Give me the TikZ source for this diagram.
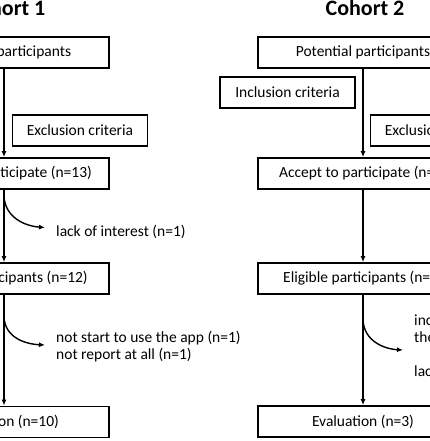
\documentclass[tikz,border=0pt]{standalone}
\usepackage{fontspec}
\setmainfont{Carlito}
\usetikzlibrary{arrows.meta}
\begin{document}
\begin{tikzpicture}[x=1pt,y=-1pt,
  box/.style={draw, line width=1.8pt, minimum width=210pt, minimum height=31pt, inner sep=0pt, font=\fontsize{15.5}{18}\selectfont, text=black},
  sidebox/.style={box, minimum width=135pt},
  flow/.style={line width=1.4pt, -{Latex[length=6pt,width=5pt]}},
  lbl/.style={anchor=west, font=\fontsize{15.5}{17}\selectfont, align=left, inner sep=0pt, text=black},
  ttl/.style={anchor=base, font=\bfseries\fontsize{22}{26}\selectfont, text=black}]
\useasboundingbox (0,0) rectangle (430,441);
\clip (0,0) rectangle (430,441);
% titles
\node[ttl] (t1) at (6,16) {Cohort 1};
\node[ttl] (t2) at (365,16) {Cohort 2};
% cohort 1
\node[box] (a1) at (4,52.5) {Potential participants};
\node[sidebox] (ex1) at (80,130.5) {Exclusion criteria};
\node[box] (b1) at (4,173.5) {Accept to participate (n=13)};
\node[box] (c1) at (4,278.5) {Eligible participants (n=12)};
\node[box] (d1) at (4,422) {Evaluation (n=10)};
\draw[flow] (a1) -- (b1);
\draw[flow] (b1) -- (c1);
\draw[flow] (c1) -- (d1);
\coordinate (k1) at (4,196);
\coordinate (e1) at (45,227.5);
\draw[flow] (k1) .. controls (5,217) and (24,226) .. (e1);
\node[lbl] (l1) at (56,232) {lack of interest (n=1)};
\coordinate (k2) at (4,317);
\coordinate (e2) at (45,345);
\draw[flow] (k2) .. controls (5,337) and (24,344) .. (e2);
\node[lbl] (l2) at (56,346.5) {not start to use the app (n=1)\\not report at all (n=1)};
% cohort 2
\node[box] (a2) at (363,52.5) {Potential participants};
\node[sidebox] (in2) at (287.5,92.5) {Inclusion criteria};
\node[sidebox] (ex2) at (438,130.5) {Exclusion criteria};
\node[box] (b2) at (363,173.5) {Accept to participate (n=5)};
\node[box] (c2) at (363,278.5) {Eligible participants (n=5)};
\node[box] (d2) at (363,421.5) {Evaluation (n=3)};
\draw[flow] (a2) -- (b2);
\draw[flow] (b2) -- (c2);
\draw[flow] (c2) -- (d2);
\coordinate (k3) at (363,320);
\coordinate (e3) at (403,350);
\draw[flow] (k3) .. controls (364,341) and (384,349) .. (e3);
\node[lbl, anchor=north west] (l3) at (414,315) {inc\\the\\[17pt]lac};
\end{tikzpicture}
\end{document}
